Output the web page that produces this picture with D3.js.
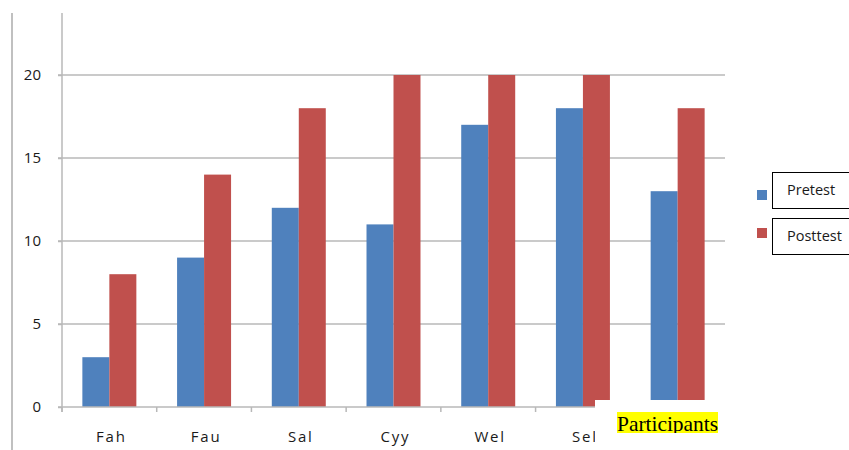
<!DOCTYPE html>
<html>
<head>
<meta charset="utf-8">
<script src="https://cdn.jsdelivr.net/npm/d3@7"></script>
<style>
  body { margin: 0; background: #fff; }
  svg { display: block; }
</style>
</head>
<body>
<div id="chart"></div>
<script>
// chart data
const categories = ["Fah", "Fau", "Sal", "Cyy", "Wel", "Sel", ""];
const pretest = [3, 9, 12, 11, 17, 18, 13];
const posttest = [8, 14, 18, 20, 20, 20, 18];
const seriesNames = ["Pretest", "Posttest"];
const yTicks = [0, 5, 10, 15, 20];

const colors = ["#4f81bd", "#c0504d"];
const width = 849, height = 450;
const plot = { left: 62, right: 725, top: 13, bottom: 407 };

const svg = d3.select("#chart").append("svg")
  .attr("width", width)
  .attr("height", height);

const x = d3.scaleBand()
  .domain(d3.range(categories.length))
  .range([plot.left, plot.right])
  .paddingInner(0.43)
  .paddingOuter(0.215);

const xSub = d3.scaleBand()
  .domain(d3.range(seriesNames.length))
  .range([0, x.bandwidth()]);

const y = d3.scaleLinear()
  .domain([0, 20])
  .range([plot.bottom, 75]);

// outer frame line on the left
svg.append("line")
  .attr("x1", 12).attr("x2", 12)
  .attr("y1", 13).attr("y2", 450)
  .attr("stroke", "#c0c0c0").attr("stroke-width", 2);

// gridlines
svg.append("g")
  .selectAll("line")
  .data(yTicks.filter(d => d > 0))
  .enter().append("line")
  .attr("x1", plot.left - 4).attr("x2", plot.right)
  .attr("y1", d => y(d)).attr("y2", d => y(d))
  .attr("stroke", "#b8b8b8").attr("stroke-width", 1.5);

// y axis
const yAxis = svg.append("g")
  .attr("transform", `translate(${plot.left},0)`)
  .call(d3.axisLeft(y).tickValues(yTicks).tickSize(4).tickPadding(17));
yAxis.select(".domain").remove();
yAxis.selectAll(".tick line").attr("stroke", "#b8b8b8").attr("stroke-width", 1.5);
yAxis.selectAll("text")
  .attr("font-family", "Open Sans, DejaVu Sans, sans-serif")
  .attr("font-size", 15).attr("fill", "#1a1a1a");

svg.append("line")
  .attr("x1", plot.left).attr("x2", plot.left)
  .attr("y1", plot.top).attr("y2", plot.bottom + 5)
  .attr("stroke", "#b8b8b8").attr("stroke-width", 1.5);

// bars
const series = [pretest, posttest];
series.forEach((vals, si) => {
  svg.append("g")
    .selectAll("rect")
    .data(vals)
    .enter().append("rect")
    .attr("x", (d, i) => x(i) + xSub(si))
    .attr("y", d => y(d))
    .attr("width", xSub.bandwidth())
    .attr("height", d => y(0) - y(d))
    .attr("fill", colors[si]);
});

// x axis
const step = (plot.right - plot.left) / categories.length;
const xAxis = svg.append("g");
xAxis.append("line")
  .attr("x1", plot.left - 4).attr("x2", plot.right)
  .attr("y1", plot.bottom).attr("y2", plot.bottom)
  .attr("stroke", "#b8b8b8").attr("stroke-width", 1.5);
xAxis.selectAll(".xtick")
  .data(d3.range(categories.length + 1))
  .enter().append("line")
  .attr("x1", i => plot.left + i * step).attr("x2", i => plot.left + i * step)
  .attr("y1", plot.bottom).attr("y2", plot.bottom + 5)
  .attr("stroke", "#b8b8b8").attr("stroke-width", 1.5);
xAxis.selectAll("text")
  .data(categories)
  .enter().append("text")
  .attr("x", (d, i) => x(i) + x.bandwidth() / 2 + 2)
  .attr("y", 442)
  .attr("text-anchor", "middle")
  .attr("font-family", "Open Sans, DejaVu Sans, sans-serif")
  .attr("font-size", 15)
  .attr("letter-spacing", 1.8)
  .attr("fill", "#1a1a1a")
  .text(d => d);

// white patch with the pasted "Participants" label
svg.append("rect")
  .attr("x", 595).attr("y", 400)
  .attr("width", 140).attr("height", 50)
  .attr("fill", "#fff");
svg.append("clipPath").attr("id", "labelClip")
  .append("rect")
  .attr("x", 617).attr("y", 412)
  .attr("width", 101).attr("height", 21);
svg.append("rect")
  .attr("x", 617).attr("y", 412)
  .attr("width", 101).attr("height", 21)
  .attr("fill", "#ffff00");
svg.append("text")
  .attr("x", 617).attr("y", 431)
  .attr("clip-path", "url(#labelClip)")
  .attr("font-family", "Liberation Serif, Times New Roman, serif")
  .attr("font-size", 21.5)
  .attr("textLength", 101)
  .attr("fill", "#000")
  .text("Participants");

// legend
const legend = svg.append("g");
const legendY = [172, 218];
seriesNames.forEach((name, i) => {
  legend.append("rect")
    .attr("x", 757).attr("y", legendY[i] + 18 - (i ? 8 : 0))
    .attr("width", 10).attr("height", 10)
    .attr("fill", colors[i]);
  legend.append("rect")
    .attr("x", 772.5).attr("y", legendY[i] + 0.5)
    .attr("width", 90).attr("height", 36)
    .attr("fill", "#fff").attr("stroke", "#000").attr("stroke-width", 1);
  legend.append("text")
    .attr("x", 787).attr("y", legendY[i] + 23)
    .attr("font-family", "Open Sans, DejaVu Sans, sans-serif")
    .attr("font-size", 14.5)
    .attr("fill", "#1a1a1a")
    .text(name);
});
</script>
</body>
</html>
